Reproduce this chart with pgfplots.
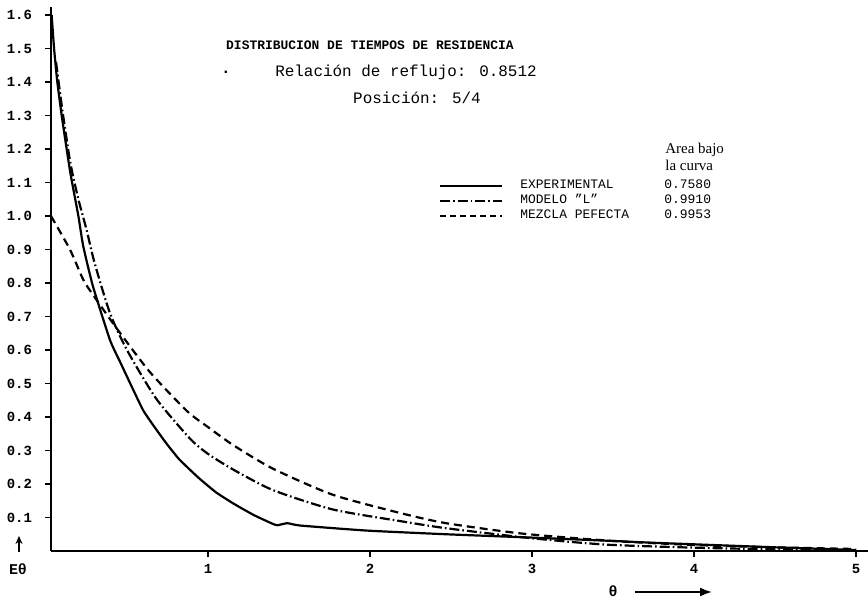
\documentclass[border=0pt]{standalone}
\usepackage{fontspec}
\setmainfont{Liberation Mono}
\newfontfamily\areafont{Liberation Serif}
\usepackage{pgfplots}
\pgfplotsset{compat=1.18}
\usetikzlibrary{calc,arrows.meta}

\begin{document}
\begin{tikzpicture}
\begin{axis}[
  scale only axis, width=408.5bp, height=272bp,
  xmin=0.031, xmax=5.074, ymin=0, ymax=1.624,
  axis x line=bottom, axis y line=left,
  axis line style={-, line width=1.1bp},
  xtick={1,2,3,4,5},
  ytick={0.1,0.2,0.3,0.4,0.5,0.6,0.7,0.8,0.9,1.0,1.1,1.2,1.3,1.4,1.5,1.6},
  yticklabels={0.1,0.2,0.3,0.4,0.5,0.6,0.7,0.8,0.9,1.0,1.1,1.2,1.3,1.4,1.5,1.6},
  /pgf/number format/assume math mode=true,
  tick align=outside, major tick length=3bp,
  tick style={black, line width=0.8bp},
  ticklabel style={font=\bfseries\fontsize{7}{8}\selectfont},
  y tick label style={xshift=-3bp},
  clip=false,
]
\coordinate (bl) at (rel axis cs:0,0);
% MEZCLA PERFECTA (dashed)
\addplot[black, line width=1.1bp, dash pattern=on 4bp off 2.5bp, smooth, tension=0.4] coordinates {
(0.031,1.00) (0.148,0.90) (0.23,0.81) (0.29,0.765) (0.436,0.665) (0.64,0.535) (0.87,0.418)
(1.0,0.370) (1.156,0.316) (1.40,0.246) (1.77,0.168) (2.19,0.113) (2.47,0.083)
(2.94,0.052) (3.5,0.030) (4.0,0.018) (4.5,0.011) (5.0,0.006)};
% MODELO L (dash-dot)
\addplot[black, line width=1.1bp, dash pattern=on 5bp off 1.5bp on 0.8bp off 1.5bp, smooth, tension=0.4] coordinates {
(0.062,1.46) (0.10,1.32) (0.15,1.16) (0.20,1.05) (0.25,0.96) (0.30,0.86) (0.395,0.71)
(0.50,0.60) (0.68,0.455) (0.89,0.335) (1.0,0.29) (1.156,0.243) (1.40,0.182)
(1.77,0.124) (2.19,0.089) (2.47,0.068) (3.0,0.038) (3.46,0.019) (4.0,0.010)
(4.5,0.005) (5.0,0.002)};
% EXPERIMENTAL (solid)
\addplot[black, line width=1.1bp, smooth, tension=0.3] coordinates {
(0.035,1.60) (0.05,1.50) (0.07,1.40) (0.10,1.29) (0.15,1.13) (0.20,1.00) (0.23,0.91)
(0.29,0.79) (0.395,0.63) (0.457,0.565) (0.53,0.49) (0.60,0.42) (0.67,0.37) (0.745,0.32)
(0.82,0.275) (0.89,0.242) (0.95,0.215) (1.05,0.175) (1.156,0.142) (1.28,0.108)
(1.40,0.081) (1.43,0.077) (1.49,0.083) (1.57,0.076) (1.98,0.061) (2.47,0.050)
(3.0,0.040) (3.5,0.030) (3.73,0.025) (4.0,0.020) (4.5,0.011) (5.0,0.003)};
\end{axis}
\pgfresetboundingbox
\begin{scope}[shift={($(bl)+(-25.5bp,275.5bp)$)}, x=0.5bp, y=-0.5bp]
\path[use as bounding box] (0,0) rectangle (868,598);
\node[font=\bfseries\fontsize{6.5}{7}\selectfont] at (370,45) {DISTRIBUCION DE TIEMPOS DE RESIDENCIA};
\node[font=\fontsize{8}{9}\selectfont] at (406,72) {Relación de reflujo: 0.8512};
\node[font=\bfseries\fontsize{8}{9}\selectfont] at (226,72) {.};
\node[font=\fontsize{8}{9}\selectfont] at (417,98) {Posición: 5/4};
\node[font=\areafont\fontsize{7.5}{8}\selectfont, anchor=west, inner sep=0pt] at (665,150) {Area bajo};
\node[font=\areafont\fontsize{7.5}{8}\selectfont, anchor=west, inner sep=0pt] at (665,165) {la curva};
\draw[black, line width=1.1bp] (440,186) -- (502,186);
\draw[black, line width=1.1bp, dash pattern=on 5bp off 1.5bp on 0.8bp off 1.5bp] (440,201) -- (502,201);
\draw[black, line width=1.1bp, dash pattern=on 3bp off 2bp] (440,216) -- (502,216);
\foreach \t/\v/\yy in {EXPERIMENTAL/0.7580/184, MODELO "L"/0.9910/199, MEZCLA PEFECTA/0.9953/214}{
  \node[font=\fontsize{6.5}{7}\selectfont, anchor=west, inner sep=0pt] at (520,\yy) {\t};
  \node[font=\fontsize{6.5}{7}\selectfont, anchor=west, inner sep=0pt] at (664,\yy) {\v};
}
\draw[line width=0.9bp, -{Stealth[length=4bp,width=3.5bp]}] (19,552) -- (19,536);
\node[font=\bfseries\fontsize{7.5}{8}\selectfont] at (18,569) {Eθ};
\node[font=\bfseries\fontsize{7.5}{8}\selectfont] at (613,591) {θ};
\draw[line width=0.9bp, -{Latex[length=6bp,width=4.5bp]}] (635,592) -- (712,592);
\end{scope}
\end{tikzpicture}
\end{document}
